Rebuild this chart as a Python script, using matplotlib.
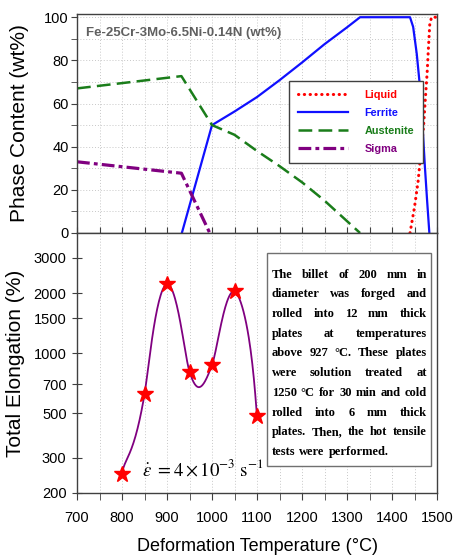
import numpy as np
import matplotlib
matplotlib.use('Agg')
import matplotlib.pyplot as plt
from matplotlib.ticker import FixedLocator, MultipleLocator, NullLocator, FixedFormatter

# Upper panel -- phase content (wt%) vs temperature
liquid_t = [1440, 1450, 1458, 1464, 1470, 1474, 1478, 1481, 1484, 1488, 1500]
liquid_v = [0, 12, 24, 37, 49, 62, 74, 86, 97, 100, 100]
ferrite_t = [933, 1000, 1050, 1100, 1150, 1200, 1250, 1300, 1329, 1440, 1447, 1455, 1462, 1468, 1473, 1478, 1483]
ferrite_v = [0, 50, 56.3, 63, 70.8, 79, 87.5, 95.3, 100, 100, 95.5, 83, 68, 49, 31, 15, 0]
austenite_t = [700, 932, 1000, 1050, 1100, 1150, 1200, 1250, 1300, 1329]
austenite_v = [67, 72.7, 50, 45.5, 38, 31, 23.5, 15, 5.5, 0]
sigma_t = [700, 932, 995]
sigma_v = [33, 27.7, 0]

# Lower panel -- total elongation vs deformation temperature
test_temps = [800, 850, 900, 950, 1000, 1050, 1100]
elongation = [250, 625, 2220, 810, 875, 2040, 483]
elong_ticks = [200, 300, 500, 700, 1000, 1500, 2000, 3000]

note_lines = [
    'The billet of 200 mm in',
    'diameter was forged and',
    'rolled into 12 mm thick',
    'plates at temperatures',
    'above 927 \u00b0C. These plates',
    'were solution treated at',
    '1250 \u00b0C for 30 min and cold',
    'rolled into 6 mm thick',
    'plates. Then, the hot tensile',
    'tests were performed.',
]

SPINE = '#404040'


def smooth(x, y, n=40):
    # Catmull-Rom curve through the points (like a spreadsheet "smoothed line")
    x = np.asarray(x, float)
    y = np.asarray(y, float)
    xp = np.concatenate([[x[0]], x, [x[-1]]])
    yp = np.concatenate([[y[0]], y, [y[-1]]])
    t = np.linspace(0, 1, n)
    h00 = 2 * t**3 - 3 * t**2 + 1
    h10 = t**3 - 2 * t**2 + t
    h01 = -2 * t**3 + 3 * t**2
    h11 = t**3 - t**2
    xs, ys = [], []
    for i in range(1, len(xp) - 2):
        mx1 = (xp[i + 1] - xp[i - 1]) / 2
        mx2 = (xp[i + 2] - xp[i]) / 2
        my1 = (yp[i + 1] - yp[i - 1]) / 2
        my2 = (yp[i + 2] - yp[i]) / 2
        xs.append(h00 * xp[i] + h10 * mx1 + h01 * xp[i + 1] + h11 * mx2)
        ys.append(h00 * yp[i] + h10 * my1 + h01 * yp[i + 1] + h11 * my2)
    return np.concatenate(xs), np.concatenate(ys)


def style_spines(ax):
    for s in ax.spines.values():
        s.set_color(SPINE)
        s.set_linewidth(1.0)


def justify(fig, ax, lines, x0, x1, y_top, dy, **kw):
    # fully justified paragraph, last line left aligned
    renderer = fig.canvas.get_renderer()
    axw = ax.bbox.width
    for i, line in enumerate(lines):
        y = y_top - i * dy
        words = line.split(' ')
        texts = [ax.text(0, y, w, transform=ax.transAxes, va='baseline', ha='left', **kw) for w in words]
        widths = [t.get_window_extent(renderer).width / axw for t in texts]
        if i == len(lines) - 1 or len(words) == 1:
            space = 0.011
        else:
            space = (x1 - x0 - sum(widths)) / (len(words) - 1)
        x = x0
        for t, w in zip(texts, widths):
            t.set_x(x)
            x += w + space


def main():
    plt.rcParams['font.family'] = ['Liberation Sans', 'DejaVu Sans']
    plt.rcParams['mathtext.fontset'] = 'stix'

    fig = plt.figure(figsize=(4.53, 5.59), dpi=100)
    ax1 = fig.add_axes([0.170, 0.5832, 0.7947, 0.3918])
    ax2 = fig.add_axes([0.170, 0.1181, 0.7947, 0.4651])

    # ---- upper panel
    ax1.plot(liquid_t, liquid_v, color='#ff0000', lw=2.2, linestyle=(0, (0.1, 1.8)),
             dash_capstyle='round', label='Liquid')
    ax1.plot(ferrite_t, ferrite_v, color='#1010ff', lw=1.6, label='Ferrite')
    ax1.plot(austenite_t, austenite_v, color='#1a7d1a', lw=1.8, linestyle=(0, (5.5, 2.5)),
             label='Austenite')
    ax1.plot(sigma_t, sigma_v, color='#800080', lw=2.3, linestyle=(0, (4, 1.3, 1.2, 1.3)),
             label='Sigma')
    ax1.set_xlim(700, 1500)
    ax1.set_ylim(0, 101.5)
    ax1.xaxis.set_major_locator(MultipleLocator(50))
    ax1.yaxis.set_major_locator(MultipleLocator(20))
    ax1.yaxis.set_minor_locator(MultipleLocator(10))
    ax1.tick_params(axis='x', direction='in', length=4, labelbottom=False, color=SPINE)
    ax1.tick_params(axis='y', which='both', direction='out', length=4, labelsize=10.5,
                    color=SPINE, pad=2)
    ax1.grid(True, which='both', color='#c8c8c8', linestyle=(0, (1, 2)), lw=0.7)
    ax1.set_axisbelow(True)
    ax1.set_ylabel('Phase Content (wt%)', fontsize=15)
    ax1.yaxis.set_label_coords(-0.133, 0.5)
    ax1.text(0.025, 0.915, 'Fe-25Cr-3Mo-6.5Ni-0.14N (wt%)', transform=ax1.transAxes,
             fontsize=9.5, fontweight='bold', color='#606060', va='center')
    style_spines(ax1)

    leg = ax1.legend(loc='upper left', bbox_to_anchor=(0.589, 0.694), fontsize=7.8,
                     frameon=True, fancybox=False, edgecolor=SPINE, framealpha=1,
                     handlelength=4.6, handletextpad=1.5, labelspacing=0.72,
                     borderpad=0.85, borderaxespad=0)
    leg.get_frame().set_linewidth(1.0)
    for txt, line in zip(leg.get_texts(), leg.get_lines()):
        txt.set_color(line.get_color())
        txt.set_fontweight('bold')

    # ---- lower panel
    cx, cy = smooth(test_temps, elongation)
    ax2.plot(cx, cy, color='#800080', lw=1.3)
    ax2.plot(test_temps, elongation, linestyle='none', marker='*', markersize=12,
             color='#ff0000', markeredgecolor='#ff0000')
    ax2.set_yscale('log')
    ax2.set_xlim(700, 1500)
    ax2.set_ylim(200, 4000)
    ax2.yaxis.set_major_locator(FixedLocator(elong_ticks))
    ax2.yaxis.set_major_formatter(FixedFormatter([str(v) for v in elong_ticks]))
    ax2.yaxis.set_minor_locator(NullLocator())
    ax2.xaxis.set_major_locator(MultipleLocator(100))
    ax2.xaxis.set_minor_locator(MultipleLocator(50))
    ax2.tick_params(axis='y', direction='inout', length=7, labelsize=10.5, color=SPINE, pad=4)
    ax2.tick_params(axis='x', which='both', direction='out', length=5, labelsize=10.5,
                    color=SPINE, pad=8)
    ax2.grid(True, axis='x', which='both', color='#c8c8c8', linestyle=(0, (1, 2)), lw=0.7)
    ax2.set_axisbelow(True)
    ax2.set_ylabel('Total Elongation (%)', fontsize=15)
    ax2.yaxis.set_label_coords(-0.145, 0.5)
    ax2.set_xlabel('Deformation Temperature (\u00b0C)', fontsize=13, labelpad=9)
    style_spines(ax2)

    ax2.text(0.18, 0.069, r'$\dot{\varepsilon}\ = 4\times10^{-3}\ \mathrm{s}^{-1}$',
             transform=ax2.transAxes, fontsize=13.5, va='baseline')

    box = plt.Rectangle((0.528, 0.104), 0.455, 0.819, transform=ax2.transAxes,
                        facecolor='white', edgecolor='#707070', lw=1.0, zorder=3)
    ax2.add_patch(box)
    justify(fig, ax2, note_lines, 0.5408, 0.9714, (493 - 277.7) / 260, 19.7 / 260,
            family=['Liberation Serif'], fontweight='bold', fontsize=9, zorder=4)

    fig.savefig('out.png', dpi=100)


if __name__ == '__main__':
    main()
